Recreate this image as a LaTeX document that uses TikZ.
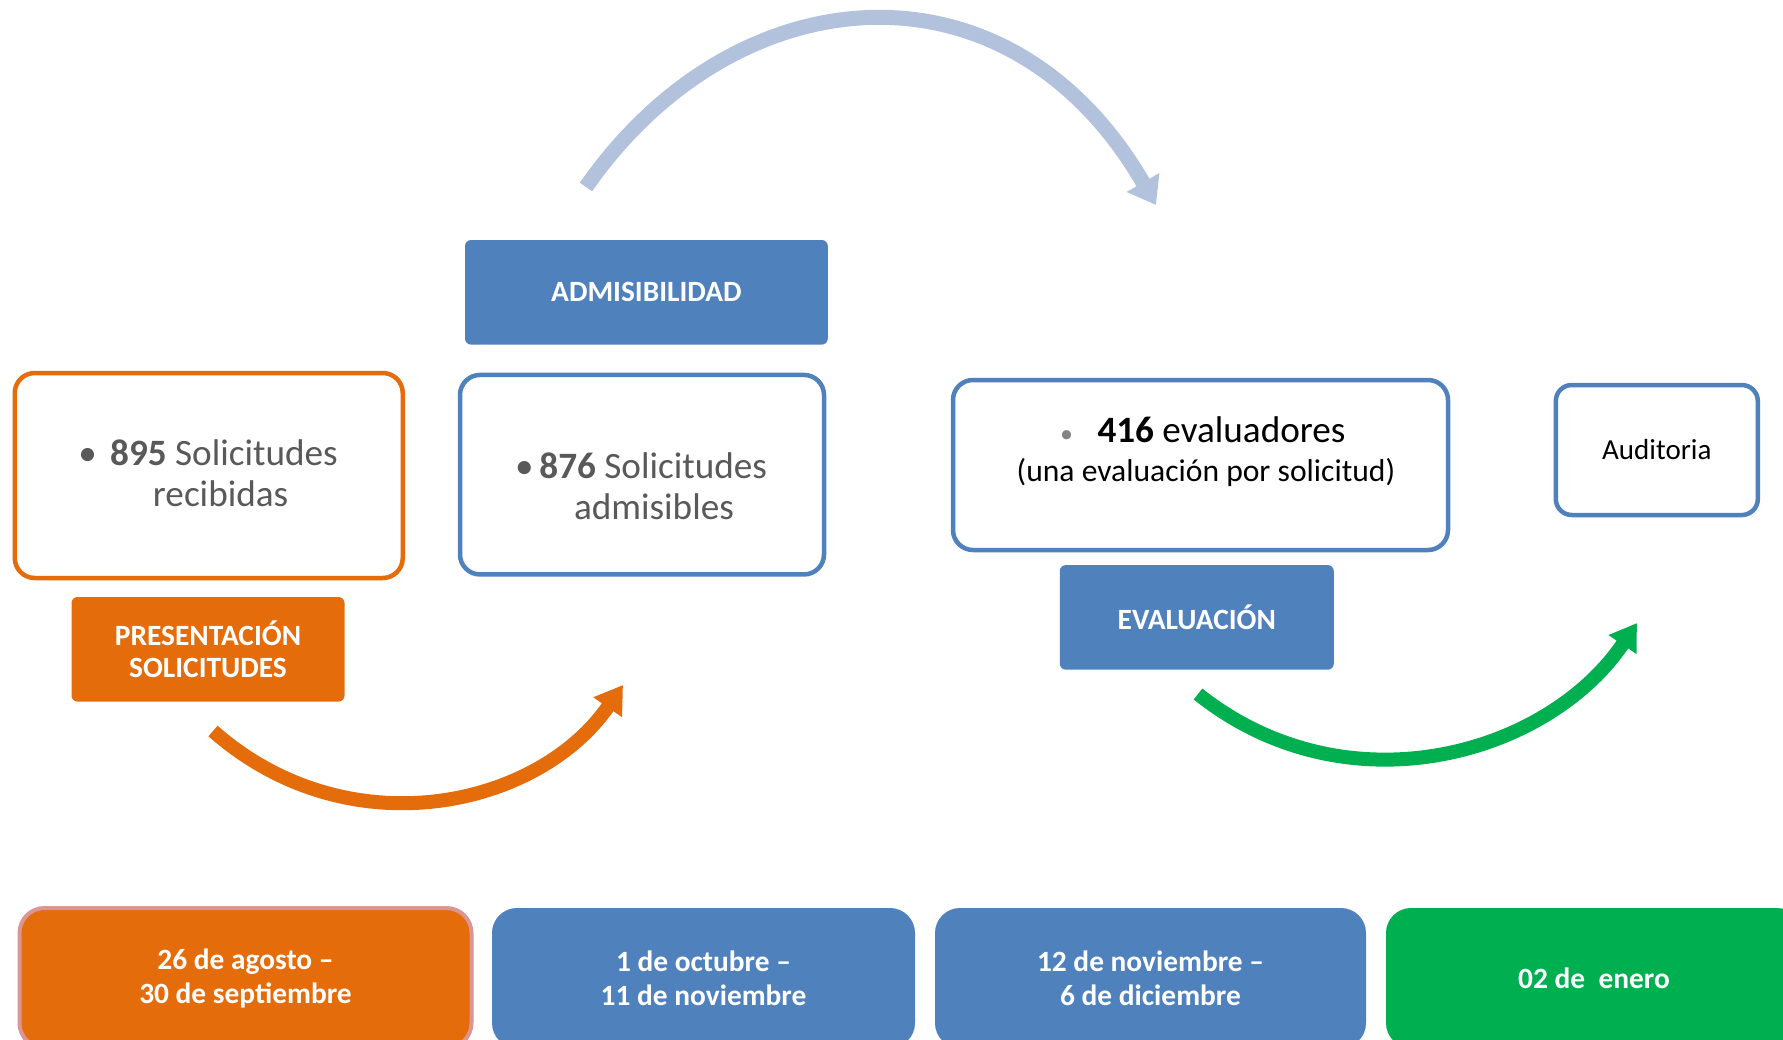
\documentclass[tikz,border=0pt]{standalone}
\usepackage{fontspec}
\setmainfont{Carlito}
\usepackage{xcolor}
\definecolor{naranja}{HTML}{E46C0A}
\definecolor{azul}{HTML}{4F81BD}
\definecolor{verde}{HTML}{00B050}
\definecolor{celeste}{HTML}{B2C2DC}
\definecolor{rosa}{HTML}{D99694}
\definecolor{gris}{HTML}{595959}
\usetikzlibrary{arrows.meta,positioning}
\tikzset{
    etapa/.style={
    rectangle,rounded corners=3pt,fill=azul,text=white,inner sep=0pt,align=center,
    minimum height=52.3pt,font=\bfseries\fontsize{14.7pt}{16pt}\selectfont
    },
    marco/.style={
    rectangle,rounded corners=10pt,line width=2.25pt,fill=white,inner sep=0pt
    },
    texto/.style={
    align=center,text=gris,inner sep=0pt,font=\fontsize{18.6pt}{20.5pt}\selectfont
    },
    fecha/.style={
    rectangle,rounded corners=12.5pt,fill=azul,text=white,inner sep=0pt,align=center,
    minimum height=70pt,font=\bfseries\fontsize{14.7pt}{17pt}\selectfont
    },
    flecha/.style={line width=7pt},
}
\begin{document}
\begin{tikzpicture}[x=0.5pt,y=-0.5pt]
\def \fy {978}
\path[use as bounding box,fill=white] (0,0) rectangle (1783,1039);
\clip (0,0) rectangle (1783,1039);

  % recuadros con cifras
  \node[marco,draw=naranja,minimum width=194pt,minimum height=102.5pt] (recib) at (208.75,475.5) {};
  \node[texto] (recibt) at (212.75,473) {\makebox[0pt]{•}\hspace{11.25pt}\textbf{895} Solicitudes\\\hspace*{7.85pt}recibidas};
  \node[marco,draw=azul,minimum width=182pt,minimum height=99.75pt] (admib) at (642,474.7) {};
  \node[texto] (admibt) at (645.7,486.5) {\makebox[0pt]{•}\hspace{7.5pt}\textbf{876} Solicitudes\\\hspace*{8.3pt}admisibles};
  \node[marco,draw=azul,minimum width=247.5pt,minimum height=85pt] (evalb) at (1200.5,465) {};
  \node[texto,text=black] (evalbt) at (1206,451.5) {{\color{gris!75}\fontsize{13pt}{13pt}\selectfont\makebox[0pt]{•}}\hspace{15.5pt}\textbf{416} evaluadores\\[-1pt]{\fontsize{15.8pt}{19.5pt}\selectfont(una evaluación por solicitud)}};
  \node[marco,draw=azul,rounded corners=8pt,minimum width=101pt,minimum height=65pt,font=\fontsize{14.5pt}{17pt}\selectfont] (audit) at (1656.8,450) {Auditoria};

  % etapas
  \node[etapa,minimum width=181.4pt] (admis) at (646.4,292.3) {ADMISIBILIDAD};
  \node[etapa,fill=naranja,minimum width=136.5pt] (present) at (208,649.3) {PRESENTACIÓN\\SOLICITUDES};
  \node[etapa,minimum width=137pt] (evalu) at (1196.8,617.4) {EVALUACIÓN};

  % fechas
  \node[fecha,fill=naranja,draw=rosa,line width=2pt,minimum width=226pt] (f1) at (245.5,\fy) {26 de agosto –\\30 de septiembre};
  \node[fecha,minimum width=211.5pt] (f2) at (703.5,\fy) {1 de octubre –\\11 de noviembre};
  \node[fecha,minimum width=215.5pt] (f3) at (1150.5,\fy) {12 de noviembre –\\6 de diciembre};
  \node[fecha,fill=verde,minimum width=208pt] (f4) at (1594,\fy) {02 de~ enero};

  % flechas curvas
  \coordinate (c1) at (586,187);
  \coordinate (c2) at (1156,205);
  \draw[flecha,celeste,line width=7.5pt,-{Triangle[width=18pt,length=13pt]}] (c1) .. controls (734,-26) and (1008,-51) .. (c2);
  \coordinate (n1) at (213,731);
  \coordinate (n2) at (623,685);
  \draw[flecha,naranja,-{Triangle[width=16.5pt,length=13.5pt]}] (n1) .. controls (348,850) and (538,808) .. (n2);
  \coordinate (v1) at (1198,694);
  \coordinate (v2) at (1637,623);
  \draw[flecha,verde,-{Triangle[width=16pt,length=13pt]}] (v1) .. controls (1346,812) and (1547,756) .. (v2);
\end{tikzpicture}
\end{document}
